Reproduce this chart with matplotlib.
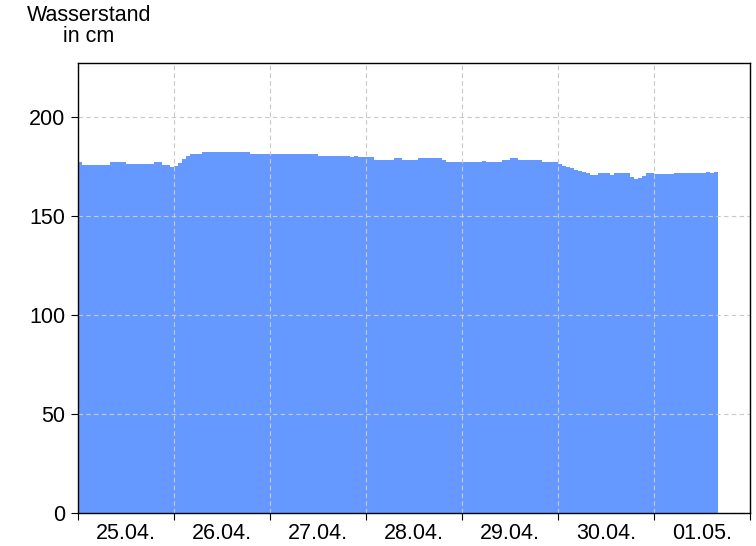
import numpy as np
import matplotlib.pyplot as plt

plt.rcParams['font.family'] = ['Liberation Sans', 'DejaVu Sans']

# hourly water level (cm), starting 25.04. 00:00
day1 = [177, 175.5, 175.5, 175.5, 175.5, 175.5, 175.5, 175.5, 177, 177, 177, 177,
        176, 176, 176, 176, 176, 176, 176, 177, 177, 175.5, 175.5, 174.5]
day2 = [175, 176.5, 178.5, 180, 181, 181, 181, 182, 182, 182, 182, 182,
        182, 182, 182, 182, 182, 182, 182, 181, 181, 181, 181, 181]
day3 = [181, 181, 181, 181, 181, 181, 181, 181, 181, 181, 181, 181,
        180, 180, 180, 180, 180, 180, 180, 180, 179.5, 180, 179.5, 179.5]
day4 = [179.5, 179.5, 178, 178, 178, 178, 178, 179, 179, 178, 178, 178,
        178, 179, 179, 179, 179, 179, 179, 178, 177, 177, 177, 177]
day5 = [177, 177, 177, 177, 177, 177.5, 177, 177, 177, 177, 178, 178,
        179, 179, 178, 178, 178, 178, 178, 178, 177, 177, 177, 177]
day6 = [176, 175, 174.5, 174, 173, 172.5, 172, 171.5, 170.7, 170.7, 171.4, 171.4,
        171.4, 170.7, 171.4, 171.4, 171.4, 171.4, 169.7, 168.4, 169, 170, 171.4, 171.4]
day7 = [170.9, 170.9, 170.9, 170.9, 170.9, 171.4, 171.4, 171.4, 171.4, 171.4, 171.4, 171.4,
        171.4, 172, 171.6, 172]

levels = day1 + day2 + day3 + day4 + day5 + day6 + day7
day_labels = ['25.04.', '26.04.', '27.04.', '28.04.', '29.04.', '30.04.', '01.05.']

hours = np.arange(len(levels) + 1)
vals = levels + [levels[-1]]

fig = plt.figure(figsize=(7.56, 5.46), dpi=100)
ax = fig.add_axes([78 / 756, 1 - 513 / 546, 672 / 756, 450 / 546])

ax.fill_between(hours, vals, step='post', color='#6699ff', linewidth=0, zorder=1)

ax.set_xlim(0, 168)
ax.set_ylim(0, 227)
ax.set_yticks([0, 50, 100, 150, 200])
ax.set_xticks(np.arange(0, 169, 24))
ax.set_xticklabels([])
ax.set_xticks(np.arange(12, 168, 24), minor=True)
ax.set_xticklabels(day_labels, minor=True)
ax.tick_params(axis='x', which='minor', length=0, pad=7, labelsize=15.5)
ax.tick_params(axis='x', which='major', length=5, direction='out')
ax.tick_params(axis='y', length=5, direction='out', labelsize=15.5, pad=4)

ax.grid(True, which='major', color='#c8c8c8', linestyle=(0, (4, 3)), linewidth=0.8, zorder=3)
ax.set_axisbelow(False)
for s in ax.spines.values():
    s.set_linewidth(1.0)
    s.set_zorder(4)

fig.text(89 / 756, 1 - 26 / 546, 'Wasserstand\nin cm', ha='center', va='center',
         fontsize=15.5, linespacing=1.05)

fig.savefig('out.png', dpi=100)
